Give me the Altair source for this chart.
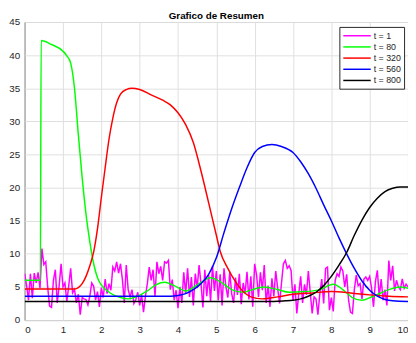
import altair as alt
import pandas as pd

labels = ["t = 1", "t = 80", "t = 320", "t = 560", "t = 800"]
colors = ["#ff00ff", "#00ff00", "#ff0000", "#0000ff", "#000000"]

# t = 1 (noisy), sampled every 0.05 from 0 to 10
t1_y = [7.0, 5.2, 3.0, 7.0, 3.3, 7.1, 5.6, 7.2, 4.8, 10.8,
        8.4, 8.8, 5.0, 2.1, 1.9, 6.0, 7.6, 2.6, 5.2, 8.5,
        5.0, 5.6, 2.8, 5.2, 7.8, 4.1, 4.6, 2.6, 3.9, 0.8,
        3.4, 3.2, 3.1, 2.3, 3.6, 5.6, 5.1, 3.0, 4.3, 2.0,
        4.9, 3.4, 6.2, 4.0, 5.5, 4.5, 8.0, 7.4, 8.8, 7.1,
        8.5, 6.1, 2.6, 8.3, 4.6, 3.5, 4.6, 2.5, 3.1, 4.2,
        2.2, 3.8, 1.2, 3.6, 5.5, 8.0, 6.0, 7.6, 3.6, 8.8,
        7.0, 8.1, 6.0, 8.8, 8.6, 9.0, 4.6, 6.1, 3.0, 4.5,
        1.8, 5.0, 2.6, 7.2, 4.0, 7.8, 3.5, 6.5, 2.2, 7.0,
        4.8, 8.3, 5.5, 1.9, 7.6, 3.6, 6.8, 2.8, 8.2, 4.4,
        7.4, 3.0, 6.9, 2.2, 7.8, 5.0, 3.4, 7.3, 4.0, 2.6,
        6.4, 3.8, 7.0, 2.4, 5.6, 4.0, 7.3, 3.1, 6.6, 2.0,
        8.5, 6.8, 3.5, 7.2, 4.5, 8.3, 2.6, 5.2, 2.0, 6.3,
        3.6, 7.4, 4.8, 2.5, 5.6, 8.5, 9.0, 7.8, 8.2, 7.5,
        3.0, 5.4, 1.0, 4.0, 6.6, 2.6, 5.4, 3.8, 7.4, 4.2,
        1.0, 3.5, 3.2, 0.8, 4.0, 6.2, 2.5, 7.8, 8.0, 1.5,
        3.4, 1.3, 6.0, 7.0, 6.6, 8.0, 7.4, 5.0, 6.9, 3.0,
        1.2, 1.0, 4.6, 6.8, 5.2, 5.5, 3.2, 6.2, 6.5, 6.0,
        6.6, 4.8, 2.0, 5.8, 7.5, 3.5, 6.2, 3.0, 4.6, 2.2,
        9.0, 6.0, 8.2, 4.4, 6.0, 5.0, 4.6, 6.2, 4.8, 5.4,
        5.0]
t1_x = [round(i * 0.05, 2) for i in range(len(t1_y))]

t80_x = [0, 0.41, 0.43, 0.7, 1.0, 1.1, 1.2, 1.3, 1.4, 1.5, 1.6, 1.7, 1.8, 1.9,
         2.0, 2.2, 2.5, 2.7, 2.9, 3.2, 3.45, 3.65, 3.9, 4.2, 4.5, 4.85, 5.1,
         5.4, 5.7, 6.0, 6.25, 6.6, 6.9, 7.3, 7.7, 8.05, 8.3, 8.55, 8.8, 9.1,
         9.5, 9.8, 10.0]
t80_y = [6.0, 6.0, 42.2, 41.6, 40.6, 39.9, 38.8, 35.0, 28.0, 21.5, 16.0, 11.8,
         8.5, 6.4, 5.3, 4.2, 3.4, 3.2, 3.5, 4.4, 5.4, 5.7, 5.2, 4.4, 5.3, 6.4,
         5.8, 4.6, 4.2, 4.7, 5.0, 4.6, 4.2, 4.3, 4.6, 5.4, 4.6, 3.4, 3.0, 3.6,
         4.6, 5.0, 4.8]

t320_x = [0, 1.3, 1.4, 1.5, 1.6, 1.7, 1.8, 1.9, 2.0, 2.1, 2.2, 2.3, 2.4, 2.5,
          2.65, 2.8, 3.0, 3.3, 3.6, 3.8, 4.0, 4.2, 4.4, 4.6, 4.8, 5.0, 5.1,
          5.3, 5.5, 5.7, 5.9, 6.2, 6.6, 7.0, 7.5, 8.0, 8.5, 9.0, 9.5, 10.0]
t320_y = [4.7, 4.7, 4.9, 5.5, 6.6, 8.2, 10.3, 13.8, 18.5, 23.0, 27.3, 30.5,
          32.8, 34.1, 34.8, 35.0, 34.8, 34.0, 33.2, 32.5, 31.3, 29.5, 26.8,
          22.5, 17.7, 12.8, 10.4, 7.8, 5.8, 4.3, 3.5, 3.2, 3.5, 3.9, 4.1, 4.3,
          4.1, 3.8, 3.6, 3.5]

t560_x = [0, 3.8, 4.0, 4.2, 4.4, 4.6, 4.8, 5.0, 5.2, 5.4, 5.6, 5.8, 6.0, 6.2,
          6.45, 6.7, 7.0, 7.2, 7.4, 7.6, 7.8, 8.0, 8.2, 8.4, 8.6, 8.8, 9.0,
          9.2, 9.4, 9.6, 10.0]
t560_y = [3.6, 3.6, 3.7, 4.0, 4.6, 5.5, 6.9, 9.4, 13.2, 16.8, 20.0, 23.0,
          25.3, 26.2, 26.5, 26.2, 25.3, 23.9, 22.1, 19.9, 17.4, 15.0, 12.4,
          10.0, 7.8, 5.9, 4.5, 3.6, 3.1, 2.9, 2.8]

t800_x = [0, 6.5, 6.8, 7.0, 7.2, 7.4, 7.6, 7.8, 8.0, 8.2, 8.4, 8.6, 8.8, 9.0,
          9.2, 9.4, 9.6, 9.8, 10.0]
t800_y = [2.8, 2.8, 2.9, 3.0, 3.2, 3.6, 4.2, 5.2, 6.6, 8.3, 10.2, 12.8, 15.1,
          17.0, 18.4, 19.4, 19.9, 20.1, 20.1]

series = [(t1_x, t1_y, "linear"), (t80_x, t80_y, "monotone"),
          (t320_x, t320_y, "monotone"), (t560_x, t560_y, "monotone"),
          (t800_x, t800_y, "monotone")]

font = "Liberation Sans"
color_scale = alt.Scale(domain=labels, range=colors)
legend = alt.Legend(
    title=None, orient="none", legendX=321, legendY=5,
    symbolType="M-1,0H4.6", symbolSize=100, symbolStrokeWidth=1.5,
    labelOffset=20, labelFont=font, labelFontSize=9, labelColor="#262626",
    rowPadding=0.4, padding=3, strokeColor="#262626", fillColor="white",
    labelLimit=100,
)

layers = []
for (xs, ys, interp), lab in zip(series, labels):
    df = pd.DataFrame({"x": xs, "y": ys, "s": lab})
    layers.append(
        alt.Chart(df).mark_line(strokeWidth=1.5, interpolate=interp, clip=True).encode(
            x=alt.X("x:Q", scale=alt.Scale(domain=[0, 10], nice=False),
                    axis=alt.Axis(values=list(range(0, 11)), title=None, labelPadding=5)),
            y=alt.Y("y:Q", scale=alt.Scale(domain=[0, 45], nice=False),
                    axis=alt.Axis(values=list(range(0, 46, 5)), title=None, labelPadding=5)),
            color=alt.Color("s:N", scale=color_scale, legend=legend, sort=labels),
            order=alt.Order("x:Q"),
        )
    )

chart = alt.layer(*layers).properties(
    width=391, height=304,
    title=alt.TitleParams("Grafico de Resumen", font=font, fontSize=10,
                          fontWeight="bold", color="#000000", offset=1,
                          baseline="alphabetic", dy=13),
    autosize=alt.AutoSizeParams(type="none"),
    padding={"left": 17, "top": 11, "right": 0, "bottom": 15},
).configure_axis(
    grid=True, gridColor="#dfdfdf", gridWidth=1, domain=False, ticks=False,
    tickSize=0, labelFont=font, labelFontSize=10, labelColor="#262626",
).configure_view(stroke="#262626", strokeWidth=1)

chart.save("out.html", embed_options={"renderer": "svg", "actions": False})
